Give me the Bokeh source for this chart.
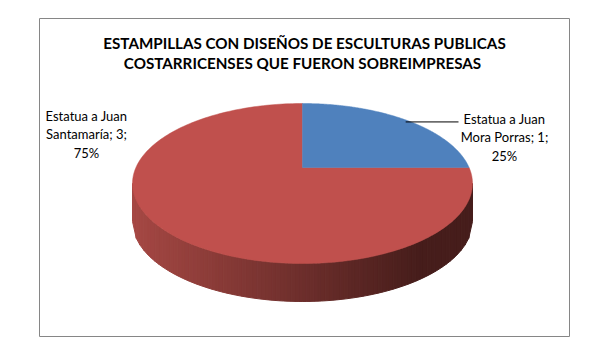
import numpy as np
from bokeh.plotting import figure
from bokeh.models import Range1d
from bokeh.core.properties import value
from bokeh.embed import file_html
from bokeh.resources import INLINE

# ---- data ----
categories = ["Estatua a Juan Mora Porras", "Estatua a Juan Santamaría"]
counts = [1, 3]
colors = ["#4F81BD", "#C0504D"]
title_lines = ["ESTAMPILLAS CON DISEÑOS DE ESCULTURAS PUBLICAS",
               "COSTARRICENSES QUE FUERON SOBREIMPRESAS"]
label_lines = {
    0: ["Estatua a Juan", "Mora Porras; 1;", "25%"],
    1: ["Estatua a Juan", "Santamaría; 3;", "75%"],
}

# ---- layout (page pixel coordinates) ----
W, H = 598, 344
CX, CY, RX, RY = 302.0, 183.0, 170.0, 80.0
DEPTH = 38.0
TILT = -0.2  # perspective shift of pie centre (fraction of RY)

p = figure(width=W, height=H, output_backend="svg", toolbar_location=None,
           x_range=Range1d(0, W), y_range=Range1d(H, 0),
           min_border=0)
p.axis.visible = False
p.grid.visible = False
p.outline_line_color = None
p.background_fill_color = "white"
p.border_fill_color = "white"

# chart border
p.quad(left=[39], right=[569], top=[18], bottom=[336], fill_color="white",
       line_color="#868686", line_width=1)

c = 1.0 / np.sqrt(1 - TILT ** 2)
s = TILT * c


def proj(theta):
    """theta: clockwise from 12 o'clock (radians) -> screen coords (perspective)."""
    x = np.sin(theta)
    y = -np.cos(theta)
    Y = c * y + s
    Wh = s * y + c
    return CX + RX * x / Wh, CY + RY * Y / Wh


# centre point
pcx, pcy = CX, CY + RY * (s / c)

# side (visible lower half) with gradient
n = 90
xs_edge = np.linspace(CX - RX, CX + RX, n + 1)
ys_edge = CY + RY * np.sqrt(np.clip(1 - ((xs_edge - CX) / RX) ** 2, 0, 1))
left_col = np.array([166, 72, 68])
right_col = np.array([70, 29, 27])
sx, sy, scol = [], [], []
for i in range(n):
    x0, x1 = xs_edge[i], xs_edge[i + 1]
    y0, y1 = ys_edge[i], ys_edge[i + 1]
    sx.append([x0, x1, x1, x0])
    sy.append([y0, y1, y1 + DEPTH, y0 + DEPTH])
    t = (i + 0.5) / n
    col = left_col + (right_col - left_col) * min(1.0, t / 0.85)
    scol.append("#%02x%02x%02x" % tuple(int(v) for v in col))
p.patches(sx, sy, fill_color=scol, line_color=scol, line_width=1)

# top-face wedges
total = float(sum(counts))
start = 0.0
wx, wy = [], []
mids = []
for v in counts:
    end = start + 2 * np.pi * v / total
    th = np.linspace(start, end, 200)
    ex, ey = proj(th)
    wx.append([pcx] + list(ex))
    wy.append([pcy] + list(ey))
    mids.append((start + end) / 2)
    start = end
order = [1, 0]
p.patches([wx[i] for i in order], [wy[i] for i in order],
          fill_color=[colors[i] for i in order],
          line_color=[colors[i] for i in order], line_width=0.5)

# labels
font = value("Lato")
lx = {0: 504, 1: 86}
ly = {0: [118, 136.5, 155], 1: [115, 133.5, 152]}
tx, ty, tt = [], [], []
for k in (0, 1):
    for j, line in enumerate(label_lines[k]):
        tx.append(lx[k]); ty.append(ly[k][j]); tt.append(line)
p.text(x=tx, y=ty, text=tt, text_font=font, text_font_size="13px",
       text_align="center", text_baseline="middle", text_color="#000000")

# leader line for first slice
mx, my = proj(mids[0])
p.line([mx, 458], [my + 2, my + 2], line_color="black", line_width=1)

# title
p.text(x=[304, 302], y=[42, 62], text=title_lines, text_font=font,
       text_font_size="15.2px", text_font_style="bold", text_align="center",
       text_baseline="middle", text_color="#000000")

open("out.html", "w").write(file_html(p, INLINE))
